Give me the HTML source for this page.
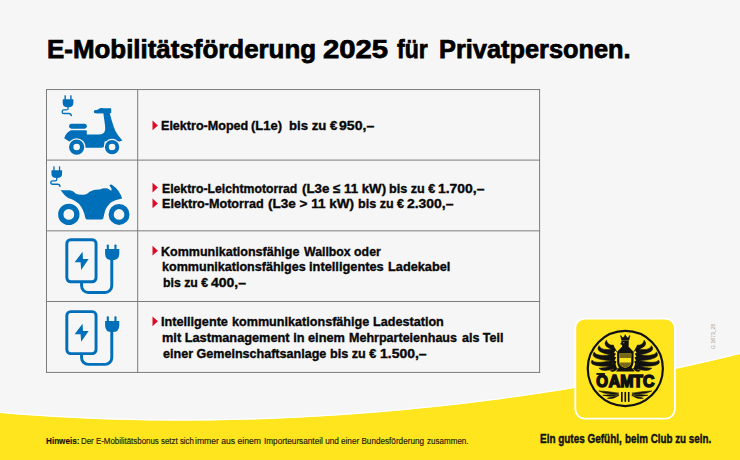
<!DOCTYPE html>
<html lang="de">
<head>
<meta charset="utf-8">
<title>E-Mobilitätsförderung 2025</title>
<style>
html,body{margin:0;padding:0;background:#f6f6f6;}
body{width:740px;height:460px;overflow:hidden;background:#f6f6f6;position:relative;font-family:"Liberation Sans",sans-serif;color:#111;}
#bg{position:absolute;left:0;top:0;width:740px;height:460px;}
.t{position:absolute;white-space:pre;transform-origin:0 0;font-weight:bold;line-height:1;}
.ti{font-size:26px;color:#000;-webkit-text-stroke:0.75px #000;}
.b{font-size:13.6px;color:#080808;-webkit-text-stroke:0.38px #080808;}
.fo{font-size:8.3px;color:#15150a;-webkit-text-stroke:0.15px #15150a;}
.fo.n{font-weight:normal;color:#1c1c0c;}
.sl{font-size:13.5px;color:#111;-webkit-text-stroke:0.45px #111;}
#code{position:absolute;left:712.2px;top:348.6px;font-size:4.5px;line-height:1;color:#9c9c9c;transform:rotate(-90deg) scaleX(1.14);transform-origin:0 0;white-space:pre;}
</style>
</head>
<body>
<svg id="bg" viewBox="0 0 740 460">
  <path d="M0,412.80 L10,413.64 L20,414.43 L30,415.17 L40,415.86 L50,416.50 L60,417.09 L70,417.62 L80,418.11 L90,418.55 L100,418.95 L110,419.29 L120,419.59 L130,419.84 L140,420.05 L150,420.21 L160,420.33 L170,420.40 L180,420.42 L190,420.40 L200,420.34 L210,420.24 L220,420.09 L230,419.90 L240,419.66 L250,419.39 L260,419.07 L270,418.71 L280,418.31 L290,417.86 L300,417.38 L310,416.85 L320,416.28 L330,415.67 L340,415.02 L350,414.33 L360,413.60 L370,412.82 L380,412.01 L390,411.15 L400,410.25 L410,409.32 L420,408.34 L430,407.32 L440,406.25 L450,405.15 L460,404.01 L470,402.82 L480,401.59 L490,400.32 L500,399.00 L510,397.65 L520,396.25 L530,394.80 L540,393.32 L550,391.79 L560,390.21 L570,388.59 L580,386.93 L590,385.22 L600,383.47 L610,381.67 L620,379.82 L630,377.92 L640,375.98 L650,373.99 L660,371.95 L670,369.87 L680,367.73 L690,365.54 L700,363.30 L710,361.01 L720,358.67 L730,356.28 L740,353.83 L740,460 L0,460 Z" fill="#ffe51e"/>
  <path d="M0,412.80 L10,413.64 L20,414.43 L30,415.17 L40,415.86 L50,416.50 L60,417.09 L70,417.62 L80,418.11 L90,418.55 L100,418.95 L110,419.29 L120,419.59 L130,419.84 L140,420.05 L150,420.21 L160,420.33 L170,420.40 L180,420.42 L190,420.40 L200,420.34 L210,420.24 L220,420.09 L230,419.90 L240,419.66 L250,419.39 L260,419.07 L270,418.71 L280,418.31 L290,417.86 L300,417.38 L310,416.85 L320,416.28 L330,415.67 L340,415.02 L350,414.33 L360,413.60 L370,412.82 L380,412.01 L390,411.15 L400,410.25 L410,409.32 L420,408.34 L430,407.32 L440,406.25 L450,405.15 L460,404.01 L470,402.82 L480,401.59 L490,400.32 L500,399.00 L510,397.65 L520,396.25 L530,394.80 L540,393.32 L550,391.79 L560,390.21 L570,388.59 L580,386.93 L590,385.22 L600,383.47 L610,381.67 L620,379.82 L630,377.92 L640,375.98 L650,373.99 L660,371.95 L670,369.87 L680,367.73 L690,365.54 L700,363.30 L710,361.01 L720,358.67 L730,356.28 L740,353.83" fill="none" stroke="#ffffff" stroke-width="1.2" transform="translate(0,-0.4)"/>

  <!-- TABLE -->
  <g stroke="#7c7c7c" stroke-width="1" fill="none">
    <path d="M46,89.55 H540.1 M46,160.1 H540.1 M46,230.85 H540.1 M46,301.5 H540.1 M46,372.4 H540.1"/>
    <path d="M46.5,89 V372.9 M137.7,89 V372.9 M539.6,89 V372.9"/>
  </g>

  <!-- BULLETS -->
  <g fill="#de0a26">
    <path d="M152.5,120.5 L157.9,125.4 L152.5,130.3 Z"/>
    <path d="M152.5,182.7 L157.9,187.6 L152.5,192.5 Z"/>
    <path d="M152.5,198.5 L157.9,203.4 L152.5,208.3 Z"/>
    <path d="M152.5,245.8 L157.9,250.7 L152.5,255.6 Z"/>
    <path d="M152.5,316.4 L157.9,321.3 L152.5,326.2 Z"/>
  </g>

  <!-- ICON 1: scooter -->
  <svg x="55" y="92" width="75" height="65.97" viewBox="0 0 523 460" fill="#006fb9">
    <rect x="66" y="22" width="10" height="34" rx="3"/>
    <rect x="106" y="22" width="10" height="34" rx="3"/>
    <path d="M54,50 H128 V76 Q128,106 91,106 Q54,106 54,76 Z"/>
    <path d="M91,102 V117 Q91,125 80,125 H62 Q50,125 50,137 Q50,150 64,150 H96 Q112,150 115,168" fill="none" stroke="#006fb9" stroke-width="9"/>
    <rect x="311" y="113.5" width="81" height="35" rx="5"/>
    <rect x="271" y="125" width="50" height="23" rx="11"/>
    <path d="M288,127 L316,113.5 H335 V148 H288 Z"/>
    <rect x="98" y="221" width="124" height="35" rx="17"/>
    <path d="M337,146 C342,190 352,235 350,262 Q346,297 305,297 H222 V274 Q222,267 214,267 H112 Q78,280 64,322 L100,346 H200 V370 Q200,388 220,388 H325 Q345,388 345,370 V346 H450 L470,338 Q425,290 412,250 Q395,200 381,146 Z"/>
    <circle cx="151" cy="384" r="61.5" fill="#f6f6f6"/>
    <circle cx="398" cy="384" r="58" fill="#f6f6f6"/>
    <circle cx="151" cy="384" r="38" fill="none" stroke="#006fb9" stroke-width="30"/>
    <circle cx="398" cy="384" r="36.5" fill="none" stroke="#006fb9" stroke-width="27"/>
  </svg>

  <!-- ICON 2: motorcycle -->
  <svg x="48" y="162" width="87" height="66.04" viewBox="0 0 606 460" fill="#006fb9">
    <rect x="37" y="30" width="9" height="34" rx="3"/>
    <rect x="76" y="30" width="9" height="34" rx="3"/>
    <path d="M24,58 H98 V82 Q98,112 61,112 Q24,112 24,82 Z"/>
    <path d="M61,108 V122 Q61,131 50,131 H32 Q19,131 19,143 Q19,155 33,155 H66 Q82,155 85,173" fill="none" stroke="#006fb9" stroke-width="9"/>
    <path d="M88,197 L150,197 Q175,200 195,222 Q210,230 250,228 Q275,226 290,208 Q320,190 360,192 Q390,178 415,185 L440,200 Q450,185 428,165 Q432,155 445,158 Q500,195 516,255 Q470,262 440,280 Q405,310 395,350 L385,392 Q383,400 372,400 H272 Q262,400 260,390 Q250,330 215,290 Q170,255 140,250 Q110,230 88,197 Z"/>
    <circle cx="145" cy="365" r="86" fill="#f6f6f6"/>
    <circle cx="495" cy="365" r="86" fill="#f6f6f6"/>
    <circle cx="145" cy="365" r="56" fill="none" stroke="#006fb9" stroke-width="37"/>
    <circle cx="495" cy="365" r="55" fill="none" stroke="#006fb9" stroke-width="36"/>
  </svg>

  <!-- ICON 3/4: wallbox -->
  <svg x="60" y="234" width="65" height="64.03" viewBox="0 0 467 460"><g fill="#006fb9">
      <rect x="49" y="41" width="210" height="302" rx="28" fill="none" stroke="#006fb9" stroke-width="21"/>
      <path d="M162,128 L105,203 H148 L152,258 L206,180 H165 Z"/>
      <path d="M155,343 V372 A48,48 0 0 0 203,420 H324 A48,48 0 0 0 372,372 V180" fill="none" stroke="#006fb9" stroke-width="21"/>
      <rect x="336" y="75" width="15" height="40" rx="6"/>
      <rect x="391" y="75" width="15" height="40" rx="6"/>
      <path d="M324,108 H426 V140 Q426,188 375,188 Q324,188 324,140 Z"/>
    </g></svg>
  <svg x="60" y="305.9" width="65" height="64.03" viewBox="0 0 467 460"><g fill="#006fb9">
      <rect x="49" y="41" width="210" height="302" rx="28" fill="none" stroke="#006fb9" stroke-width="21"/>
      <path d="M162,128 L105,203 H148 L152,258 L206,180 H165 Z"/>
      <path d="M155,343 V372 A48,48 0 0 0 203,420 H324 A48,48 0 0 0 372,372 V180" fill="none" stroke="#006fb9" stroke-width="21"/>
      <rect x="336" y="75" width="15" height="40" rx="6"/>
      <rect x="391" y="75" width="15" height="40" rx="6"/>
      <path d="M324,108 H426 V140 Q426,188 375,188 Q324,188 324,140 Z"/>
    </g></svg>

  <!-- LOGO -->
  <rect x="575.3" y="318.6" width="99.6" height="100" rx="9.5" fill="#ffe51e" stroke="#ffffff" stroke-width="1.9"/>
<!--LOGO-START-->
  <svg x="583" y="328" width="85" height="87" viewBox="0 0 740 757.4">
    <circle cx="368.3" cy="352.6" r="327" fill="none" stroke="#111" stroke-width="19"/>
    <g fill="#111">
      <path d="M264,150 Q215,152 204,106 Q160,158 264,188Z M473,150 Q522,152 533,106 Q577,158 473,188Z M260,182 Q160,202 140,154 Q92,214 260,234Z M477,182 Q577,202 597,154 Q645,214 477,234Z M257,228 Q120,256 97,210 Q48,274 257,286Z M480,228 Q617,256 640,210 Q689,274 480,286Z M257,281 Q110,318 78,280 Q38,340 260,332Z M480,281 Q627,318 659,280 Q699,340 477,332Z M264,322 Q190,350 138,350 Q170,388 278,352Z M473,322 Q547,350 599,350 Q567,388 459,352Z M282,345 Q262,366 238,372 Q266,390 302,354Z M455,345 Q475,366 499,372 Q471,390 435,354Z" stroke="#111" stroke-width="5" stroke-linejoin="round"/>
      <!-- wing arms with jagged inner edge -->
      <path d="M262,146 L297,206 L297,214 L283,196 L270,216 L287,224 L272,249 L289,257 L275,283 L291,291 L283,314 L298,356 L262,345 Q250,250 240,170 Z"/>
      <path d="M475,146 L440,206 L440,214 L454,196 L467,216 L450,224 L465,249 L448,257 L462,283 L446,291 L454,314 L439,356 L475,345 Q487,250 497,170 Z"/>
      <!-- crown -->
      <path d="M337,106 L329,70 L349,88 L368,62 L387,88 L407,70 L399,106 Z" stroke="#111" stroke-width="6" stroke-linejoin="round"/>
      <circle cx="330" cy="69" r="5"/><circle cx="368" cy="62" r="5.5"/><circle cx="406" cy="69" r="5"/>
      <!-- head + neck + body + tail -->
      <path d="M334,112 H398 V150 L396,160 L440,206 V300 Q438,325 424,343 L450,378 H287 L312,343 Q298,325 297,300 V206 L341,160 L340,148 L322,140 L334,128 Z"/>
      <!-- shield -->
      <path d="M308,213 H428 V296 Q428,346 368,354 Q308,346 308,296 Z"/>
      <path d="M316,221 H420 V296 Q420,338 368,346 Q316,338 316,296 Z" fill="#ffe51e"/>
      <path d="M316,221 H420 V262 H316 Z M318,300 H418 Q412,338 368,346 Q324,338 318,300 Z" fill="#76691a"/>
      <!-- laurels + bars -->
      <path d="M312,567 Q217,551 138,548 Q213,589 312,567Z M425,567 Q524,589 599,548 Q520,551 425,567Z M310,579 Q234,577 172,586 Q236,607 310,579Z M427,579 Q501,607 565,586 Q502,577 427,579Z M314,586 Q257,597 212,612 Q263,624 314,586Z M423,586 Q473,624 525,612 Q480,597 423,586Z" stroke="#111" stroke-width="5" stroke-linejoin="round"/>
      <rect x="331" y="557" width="14" height="86"/>
      <rect x="361" y="557" width="14" height="86"/>
      <rect x="391" y="557" width="14" height="86"/>
      <!-- OAMTC -->
      <rect x="117" y="392" width="74" height="16"/>
      <g transform="translate(0,517.7) scale(1,0.9) translate(0,-517.7)"><text x="116" y="517.7" font-family="Liberation Sans, sans-serif" font-weight="bold" font-size="151" stroke="#111" stroke-width="14" textLength="102" lengthAdjust="spacingAndGlyphs">O</text></g>
      <text x="224" y="517.7" font-family="Liberation Sans, sans-serif" font-weight="bold" font-size="151" stroke="#111" stroke-width="14" textLength="398" lengthAdjust="spacingAndGlyphs">AMTC</text>
    </g>
    <circle cx="355" cy="128" r="5" fill="#ffe51e"/>
  </svg>
<!--LOGO-END-->
</svg>

<!-- table lines are drawn in the svg -->

<div class="t ti" style="left:47.30px;top:35.80px;transform:scaleX(0.9963)">E-Mobilitätsförderung</div>
<div class="t ti" style="left:323.47px;top:35.80px;transform:scaleX(1.1263)">2025</div>
<div class="t ti" style="left:397.20px;top:35.80px;transform:scaleX(0.8857)">für</div>
<div class="t ti" style="left:438.52px;top:35.80px;transform:scaleX(0.9753)">Privatpersonen.</div>
<div class="t b" style="left:160.78px;top:119.30px;transform:scaleX(0.9237)">Elektro-Moped</div>
<div class="t b" style="left:251.05px;top:119.30px;transform:scaleX(0.9548)">(L1e)</div>
<div class="t b" style="left:289.13px;top:119.30px;transform:scaleX(0.9667)">bis zu €</div>
<div class="t b" style="left:339.20px;top:119.30px;transform:scaleX(1.0353)">950,–</div>
<div class="t b" style="left:162.30px;top:181.50px;transform:scaleX(0.9000)">Elektro-Leichtmotorrad</div>
<div class="t b" style="left:302.02px;top:181.50px;transform:scaleX(0.9815)">(L3e</div>
<div class="t b" style="left:333.40px;top:181.50px;transform:scaleX(0.9778)">≤ 11 kW)</div>
<div class="t b" style="left:389.07px;top:181.50px;transform:scaleX(0.9292)">bis zu €</div>
<div class="t b" style="left:437.98px;top:181.50px;transform:scaleX(1.0250)">1.700,–</div>
<div class="t b" style="left:162.27px;top:197.30px;transform:scaleX(0.9278)">Elektro-Motorrad</div>
<div class="t b" style="left:267.51px;top:197.30px;transform:scaleX(0.9941)">(L3e &gt; 11 kW)</div>
<div class="t b" style="left:357.77px;top:197.30px;transform:scaleX(0.9250)">bis zu €</div>
<div class="t b" style="left:407.30px;top:197.30px;transform:scaleX(1.0244)">2.300,–</div>
<div class="t b" style="left:161.28px;top:244.70px;transform:scaleX(0.9208)">Kommunikationsfähige</div>
<div class="t b" style="left:303.60px;top:244.70px;transform:scaleX(0.9047)">Wallbox oder</div>
<div class="t b" style="left:162.28px;top:260.20px;transform:scaleX(0.9234)">kommunikationsfähiges</div>
<div class="t b" style="left:309.26px;top:260.20px;transform:scaleX(0.9423)">intelligentes</div>
<div class="t b" style="left:387.86px;top:260.20px;transform:scaleX(0.9385)">Ladekabel</div>
<div class="t b" style="left:162.50px;top:276.30px;transform:scaleX(0.9042)">bis zu €</div>
<div class="t b" style="left:210.90px;top:276.30px;transform:scaleX(1.0294)">400,–</div>
<div class="t b" style="left:161.27px;top:315.20px;transform:scaleX(0.9324)">Intelligente</div>
<div class="t b" style="left:231.97px;top:315.20px;transform:scaleX(0.9272)">kommunikationsfähige</div>
<div class="t b" style="left:373.47px;top:315.20px;transform:scaleX(0.9280)">Ladestation</div>
<div class="t b" style="left:162.26px;top:331.00px;transform:scaleX(0.9383)">mit Lastmanagement in einem</div>
<div class="t b" style="left:348.78px;top:331.00px;transform:scaleX(0.9224)">Mehrparteienhaus</div>
<div class="t b" style="left:462.40px;top:331.00px;transform:scaleX(0.9205)">als Teil</div>
<div class="t b" style="left:163.20px;top:346.80px;transform:scaleX(0.9237)">einer Gemeinschaftsanlage</div>
<div class="t b" style="left:330.17px;top:346.80px;transform:scaleX(0.9292)">bis zu €</div>
<div class="t b" style="left:379.57px;top:346.80px;transform:scaleX(1.0273)">1.500,–</div>

<div class="t fo" style="left:45.72px;top:437.10px;transform:scaleX(0.9812)">Hinweis:</div>
<div class="t fo n" style="left:80.65px;top:437.10px;transform:scaleX(0.9530)">Der E-Mobilitätsbonus setzt sich</div>
<div class="t fo n" style="left:194.73px;top:437.10px;transform:scaleX(1.0361)">immer aus einem</div>
<div class="t fo n" style="left:263.51px;top:437.10px;transform:scaleX(0.9892)">Importeursanteil und</div>
<div class="t fo n" style="left:341.10px;top:437.10px;transform:scaleX(0.9833)">einer Bundesförderung</div>
<div class="t fo n" style="left:426.90px;top:437.10px;transform:scaleX(0.9690)">zusammen.</div>
<div class="t sl" style="left:539.61px;top:431.90px;transform:scaleX(0.7362)">Ein gutes Gefühl,</div>
<div class="t sl" style="left:624.77px;top:431.90px;transform:scaleX(0.7274)">beim Club zu sein.</div>
<div id="code">G 1673_25</div>

</body>
</html>
